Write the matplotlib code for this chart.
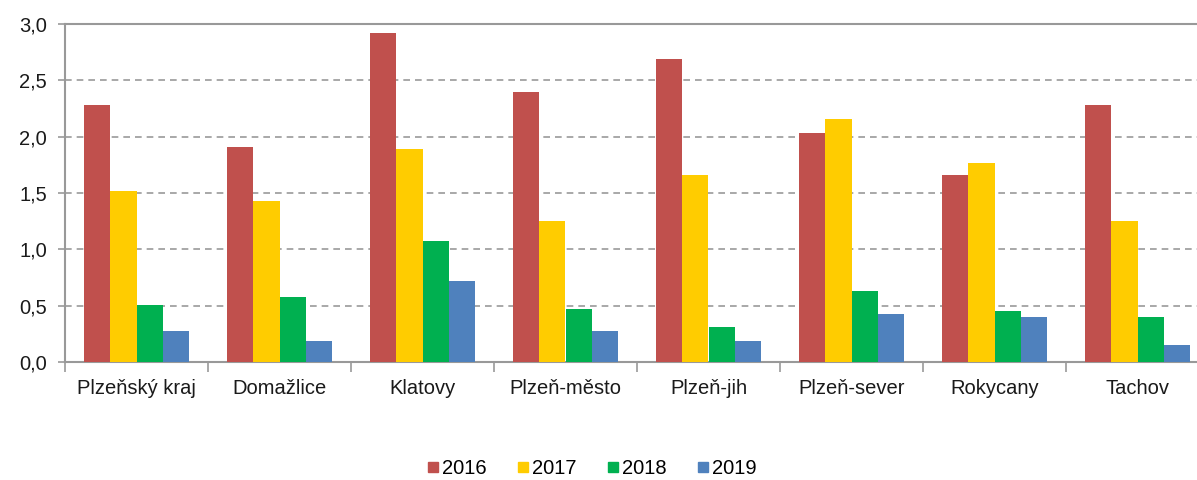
import matplotlib.pyplot as plt
from matplotlib.ticker import FuncFormatter
from matplotlib.lines import Line2D

plt.rcParams['font.family'] = ['Liberation Sans', 'DejaVu Sans']

districts = ['Plzeňský kraj', 'Domažlice', 'Klatovy', 'Plzeň-město',
             'Plzeň-jih', 'Plzeň-sever', 'Rokycany', 'Tachov']
years = ['2016', '2017', '2018', '2019']
v2016 = [2.28, 1.91, 2.92, 2.40, 2.69, 2.03, 1.66, 2.28]
v2017 = [1.52, 1.43, 1.89, 1.25, 1.66, 2.16, 1.77, 1.25]
v2018 = [0.51, 0.58, 1.07, 0.47, 0.31, 0.63, 0.45, 0.40]
v2019 = [0.275, 0.19, 0.72, 0.275, 0.19, 0.43, 0.40, 0.15]
colors = ['#C0504D', '#FFCC00', '#00B050', '#4F81BD']

fig = plt.figure(figsize=(11.97, 4.8), dpi=100)
ax = fig.add_axes([65 / 1197, 118 / 480, 1144 / 1197, 338 / 480])

x = range(len(districts))
width = 0.182
for j, vals in enumerate([v2016, v2017, v2018, v2019]):
    ax.bar([i + (j - 1.5) * width for i in x], vals, width,
           color=colors[j], label=years[j], zorder=3)

ax.set_xlim(-0.5, len(districts) - 0.5)
ax.set_ylim(0, 3.0)
ax.set_yticks([0, 0.5, 1.0, 1.5, 2.0, 2.5, 3.0])
ax.yaxis.set_major_formatter(FuncFormatter(lambda v, p: f'{v:.1f}'.replace('.', ',')))
ax.grid(axis='y', color='#999999', linestyle=(0, (4, 3)), linewidth=1.2, zorder=0)

ax.set_xticks([i - 0.5 for i in range(len(districts) + 1)])
ax.set_xticklabels([])
ax.set_xticks(list(x), minor=True)
ax.set_xticklabels(districts, minor=True)
ax.tick_params(axis='x', which='major', length=7, color='#999999', width=1.2)
ax.tick_params(axis='x', which='minor', length=0, pad=12, labelsize=14.5, labelcolor='#1a1a1a')
ax.tick_params(axis='y', length=5, color='#999999', width=1.2, labelsize=14.5,
               labelcolor='#1a1a1a', pad=8)

for s in ['left', 'bottom', 'top']:
    ax.spines[s].set_color('#999999')
    ax.spines[s].set_linewidth(1.5)
ax.spines['right'].set_visible(False)

handles = [Line2D([], [], marker='s', linestyle='', markersize=7,
                  markerfacecolor=c, markeredgecolor=c) for c in colors]
fig.legend(handles, years, loc='center', bbox_to_anchor=(591 / 1197, 1 - 469 / 480),
           ncol=4, frameon=False, fontsize=14.5, handletextpad=0.05,
           columnspacing=1.4, handlelength=0.8, borderpad=0.1)

fig.savefig('out.png', dpi=100)
